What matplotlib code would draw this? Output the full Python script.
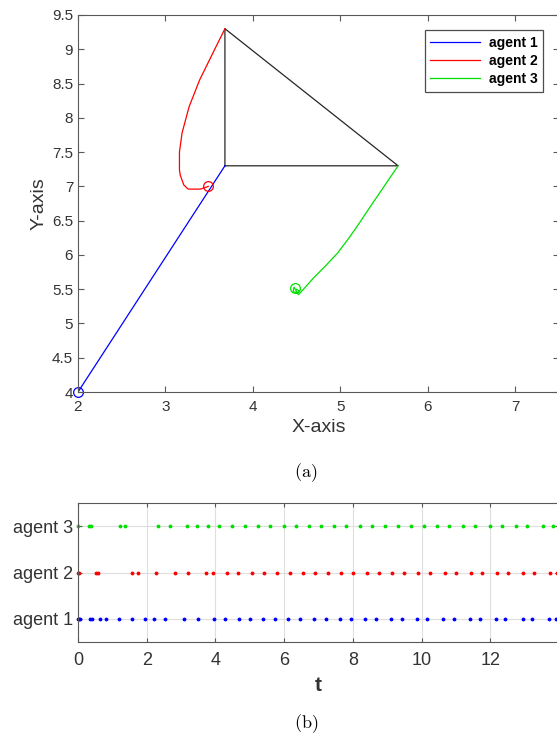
import numpy as np
import matplotlib
matplotlib.use('Agg')
import matplotlib.pyplot as plt

plt.rcParams['font.family'] = ['Liberation Sans', 'DejaVu Sans']
plt.rcParams['mathtext.fontset'] = 'cm'

# trajectories (x, y)
agent1_x = [2.00, 3.68]
agent1_y = [4.00, 7.30]
agent2_x = [3.49, 3.40, 3.26, 3.21, 3.19, 3.17, 3.16, 3.16, 3.19, 3.27, 3.39, 3.54, 3.68]
agent2_y = [7.00, 6.96, 6.96, 7.02, 7.09, 7.16, 7.24, 7.50, 7.78, 8.16, 8.55, 8.94, 9.30]
agent3_x = [4.50, 4.53, 4.50, 4.46, 4.47, 4.52, 4.60, 4.69, 4.83, 4.97, 5.10, 5.22, 5.34,
            5.50, 5.66]
agent3_y = [5.50, 5.47, 5.44, 5.47, 5.53, 5.42, 5.53, 5.66, 5.84, 6.03, 6.25, 6.47, 6.70,
            7.00, 7.30]
start_pts = [(2.00, 4.00), (3.49, 7.00), (4.48, 5.51)]
formation_x = [3.68, 3.68, 5.66, 3.68]
formation_y = [7.30, 9.30, 7.30, 7.30]

# event trigger instants
events1 = [0, 0.03, 0.06, 0.35, 0.42, 0.64, 0.81, 1.20, 1.58, 1.96, 2.20, 2.53, 3.08, 3.49,
           3.97, 4.29, 4.68, 5.02, 5.39, 5.72, 6.10, 6.46, 6.86, 7.21, 7.62, 7.94, 8.35,
           8.68, 9.11, 9.44, 9.87, 10.17, 10.63, 10.93, 11.40, 11.69, 12.17, 12.44, 12.94,
           13.21, 13.72, 13.90]
events2 = [0, 0.04, 0.52, 0.57, 1.58, 1.74, 2.27, 2.81, 3.21, 3.72, 3.94, 4.34, 4.67, 5.06,
           5.42, 5.79, 6.16, 6.54, 6.91, 7.28, 7.65, 8.01, 8.41, 8.76, 9.15, 9.49, 9.90,
           10.25, 10.67, 11.00, 11.43, 11.75, 12.19, 12.52, 12.95, 13.27, 13.74, 13.95]
events3 = [0, 0.31, 0.37, 1.22, 1.37, 2.33, 2.67, 3.16, 3.46, 3.78, 4.11, 4.49, 4.86, 5.25,
           5.60, 6.00, 6.34, 6.72, 7.07, 7.45, 7.81, 8.20, 8.55, 8.95, 9.30, 9.69, 10.06,
           10.45, 10.80, 11.21, 11.56, 11.98, 12.33, 12.75, 13.08, 13.53, 13.82]
agent_names = ['agent 1', 'agent 2', 'agent 3']
colors = ['#0000ff', '#ff0000', '#00e000']

W, H = 557, 736
fig = plt.figure(figsize=(W / 100, H / 100), dpi=100)
spine_col = '0.35'
tick_col = '0.2'

# ---- (a) trajectories ----
ax = fig.add_axes([78 / W, 1 - 392 / H, 481 / W, 377 / H])
ax.plot(formation_x, formation_y, color='0.15', lw=0.9)
l1, = ax.plot(agent1_x, agent1_y, color=colors[0], lw=0.9, label='agent 1')
l2, = ax.plot(agent2_x, agent2_y, color=colors[1], lw=0.9, label='agent 2')
l3, = ax.plot(agent3_x, agent3_y, color=colors[2], lw=0.9, label='agent 3')
for (px, py), c in zip(start_pts, colors):
    ax.plot(px, py, 'o', mfc='none', mec=c, ms=7, mew=0.9, clip_on=False)
ax.set_xlim(2, 7.5)
ax.set_ylim(4, 9.5)
ax.set_xticks([2, 3, 4, 5, 6, 7])
ax.set_yticks(np.arange(4, 9.51, 0.5))
ax.set_yticklabels(['4', '4.5', '5', '5.5', '6', '6.5', '7', '7.5', '8', '8.5', '9', '9.5'])
ax.tick_params(direction='in', top=True, right=True, labelsize=11, colors=spine_col,
               labelcolor=tick_col, length=4)
ax.tick_params(axis='x', pad=6)
for s in ax.spines.values():
    s.set_color(spine_col)
ax.set_xlabel('X-axis', fontsize=14, color=tick_col, labelpad=3)
ax.set_ylabel('Y-axis', fontsize=14, color=tick_col, labelpad=3)
leg = ax.legend(handles=[l1, l2, l3], loc='upper right', bbox_to_anchor=(0.967, 0.960),
                borderaxespad=0, fancybox=False, framealpha=1, edgecolor='0.3',
                handlelength=3.6, handletextpad=0.6, labelspacing=0.3,
                prop={'weight': 'bold', 'size': 10})
leg.get_frame().set_linewidth(0.9)
fig.text(306 / W, 1 - 473 / H, r'$\mathrm{(a)}$', ha='center', va='center', fontsize=13)

# ---- (b) event instants ----
bx = fig.add_axes([78 / W, 1 - 642 / H, 481 / W, 139 / H])
for k, ev in enumerate([events1, events2, events3]):
    bx.plot(ev, np.full(len(ev), k + 1), '.', color=colors[k], ms=3.5, clip_on=False)
bx.set_xlim(0, 14)
bx.set_ylim(0.5, 3.5)
bx.set_xticks([0, 2, 4, 6, 8, 10, 12])
bx.set_yticks([1, 2, 3])
bx.set_yticklabels(agent_names)
bx.grid(True, color='0.87', lw=0.8)
bx.set_axisbelow(True)
bx.tick_params(direction='in', top=True, right=True, labelsize=13, colors=spine_col,
               labelcolor=tick_col, length=3)
bx.tick_params(axis='x', pad=7)
for s in bx.spines.values():
    s.set_color(spine_col)
bx.set_xlabel('t', fontsize=15, fontweight='bold', color=tick_col, labelpad=5)
fig.text(306 / W, 1 - 724 / H, r'$\mathrm{(b)}$', ha='center', va='center', fontsize=13)

fig.savefig('out.png', dpi=100)
